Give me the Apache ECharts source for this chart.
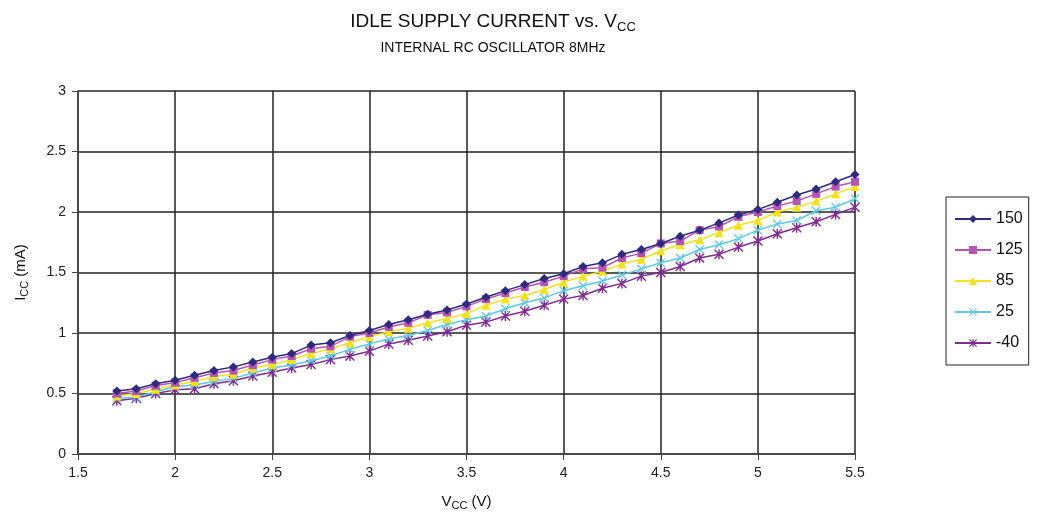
<!DOCTYPE html>
<html>
<head>
<meta charset="utf-8">
<script src="https://cdn.jsdelivr.net/npm/echarts@6/dist/echarts.min.js"></script>
<style>
html,body{margin:0;padding:0;background:#fff;}
#chart{width:1048px;height:527px;}
</style>
</head>
<body>
<div id="chart"></div>
<script>
const vcc = [1.7,1.8,1.9,2.0,2.1,2.2,2.3,2.4,2.5,2.6,2.7,2.8,2.9,3.0,3.1,3.2,3.3,3.4,3.5,3.6,3.7,3.8,3.9,4.0,4.1,4.2,4.3,4.4,4.5,4.6,4.7,4.8,4.9,5.0,5.1,5.2,5.3,5.4,5.5];
const s150 = [0.52,0.54,0.58,0.61,0.65,0.69,0.72,0.76,0.80,0.83,0.90,0.92,0.98,1.02,1.07,1.11,1.155,1.19,1.24,1.295,1.35,1.40,1.45,1.49,1.55,1.58,1.65,1.69,1.74,1.80,1.85,1.91,1.975,2.02,2.08,2.14,2.19,2.25,2.31];
const s125 = [0.50,0.52,0.565,0.59,0.63,0.67,0.69,0.735,0.78,0.81,0.87,0.89,0.97,1.00,1.05,1.085,1.15,1.17,1.22,1.28,1.33,1.38,1.42,1.47,1.53,1.54,1.62,1.66,1.74,1.76,1.85,1.88,1.96,2.00,2.05,2.09,2.15,2.21,2.25];
const s85 = [0.48,0.50,0.535,0.57,0.60,0.64,0.66,0.71,0.74,0.78,0.83,0.87,0.92,0.97,1.01,1.04,1.085,1.12,1.16,1.23,1.28,1.31,1.36,1.42,1.47,1.51,1.57,1.61,1.68,1.73,1.77,1.83,1.89,1.93,2.00,2.04,2.09,2.15,2.21];
const s25 = [0.46,0.47,0.515,0.555,0.57,0.60,0.625,0.67,0.71,0.735,0.77,0.81,0.865,0.91,0.95,0.98,1.02,1.07,1.11,1.14,1.20,1.25,1.29,1.35,1.39,1.43,1.48,1.53,1.58,1.62,1.69,1.73,1.78,1.85,1.90,1.93,2.01,2.04,2.11];
const sm40 = [0.44,0.46,0.50,0.53,0.54,0.58,0.605,0.645,0.675,0.71,0.74,0.78,0.81,0.85,0.91,0.94,0.975,1.01,1.065,1.09,1.14,1.18,1.23,1.28,1.31,1.37,1.41,1.47,1.50,1.55,1.62,1.65,1.71,1.76,1.82,1.87,1.92,1.98,2.04];
const seriesNames = ['150','125','85','25','-40'];
const xTicks = {min:1.5, max:5.5, interval:0.5};
const yTicks = {min:0, max:3, interval:0.5};

const colors = ['#2E2A7E','#B455B4','#F2E21E','#5EC8E2','#7E2B92'];
const xPath = 'path://M1,0L5,4L9,0L10,1L6,5L10,9L9,10L5,6L1,10L0,9L4,5L0,1Z';
const starPath = 'path://M1,0L5,4L9,0L10,1L6,5L10,9L9,10L5,6L1,10L0,9L4,5L0,1Z M4.3,0L5.7,0L5.7,10L4.3,10Z';
const symbols = ['diamond','rect','triangle',xPath,starPath];
const sizes = [9,8,9,9,10];
const allData = [s150,s125,s85,s25,sm40];

const chart = echarts.init(document.getElementById('chart'));
const font = 'Liberation Sans, Arial, sans-serif';
chart.setOption({
  animation:false,
  backgroundColor:'#fff',
  title:[{
    text:'IDLE SUPPLY CURRENT vs. V{s|CC}',
    left:488, top:5, textAlign:'center',
    textStyle:{fontFamily:font,fontSize:19,fontWeight:'normal',color:'#111',
      rich:{s:{fontFamily:font,fontSize:13,color:'#111',padding:[11,0,0,0]}}}
  },{
    text:'INTERNAL RC OSCILLATOR 8MHz',
    left:488, top:36, textAlign:'center',
    textStyle:{fontFamily:font,fontSize:14,fontWeight:'normal',color:'#111'}
  }],
  grid:{left:78,top:91,width:777,height:363,containLabel:false},
  legend:{
    orient:'vertical', left:946, top:197,
    width:82,
    data:seriesNames,
    itemWidth:36, itemHeight:10, itemGap:15,
    padding:[14,6,14,8],
    borderColor:'#222', borderWidth:1,
    textStyle:{fontFamily:font,fontSize:16,color:'#111',padding:[0,0,0,0]}
  },
  xAxis:{
    type:'value', min:xTicks.min, max:xTicks.max, interval:xTicks.interval,
    name:'V{s|CC} (V)', nameLocation:'middle', nameGap:38,
    nameTextStyle:{fontFamily:font,fontSize:15,color:'#111',
      rich:{s:{fontFamily:font,fontSize:11,color:'#111',padding:[8,0,0,0]}}},
    axisLine:{show:true,lineStyle:{color:'#444',width:1.5}},
    axisTick:{show:true,inside:false,length:6,lineStyle:{color:'#444'}},
    axisLabel:{fontFamily:font,fontSize:14,color:'#222',margin:12},
    splitLine:{show:true,lineStyle:{color:'#222',width:1.5}}
  },
  yAxis:{
    type:'value', min:yTicks.min, max:yTicks.max, interval:yTicks.interval,
    name:'I{s|CC} (mA)', nameLocation:'middle', nameGap:48, nameRotate:90,
    nameTextStyle:{fontFamily:font,fontSize:15,color:'#111',
      rich:{s:{fontFamily:font,fontSize:11,color:'#111',padding:[8,0,0,0]}}},
    axisLine:{show:true,lineStyle:{color:'#444',width:1.5}},
    axisTick:{show:true,inside:false,length:6,lineStyle:{color:'#444'}},
    axisLabel:{fontFamily:font,fontSize:14,color:'#222',margin:12},
    splitLine:{show:true,lineStyle:{color:'#222',width:1.5}}
  },
  series: seriesNames.map((n,i)=>({
    name:n, type:'line',
    data: vcc.map((v,j)=>[v, allData[i][j]]),
    symbol:symbols[i], symbolSize:sizes[i], showSymbol:true,
    lineStyle:{color:colors[i],width:1.5},
    itemStyle:{color:colors[i]},
    z: 10 - i
  }))
});
</script>
</body>
</html>
